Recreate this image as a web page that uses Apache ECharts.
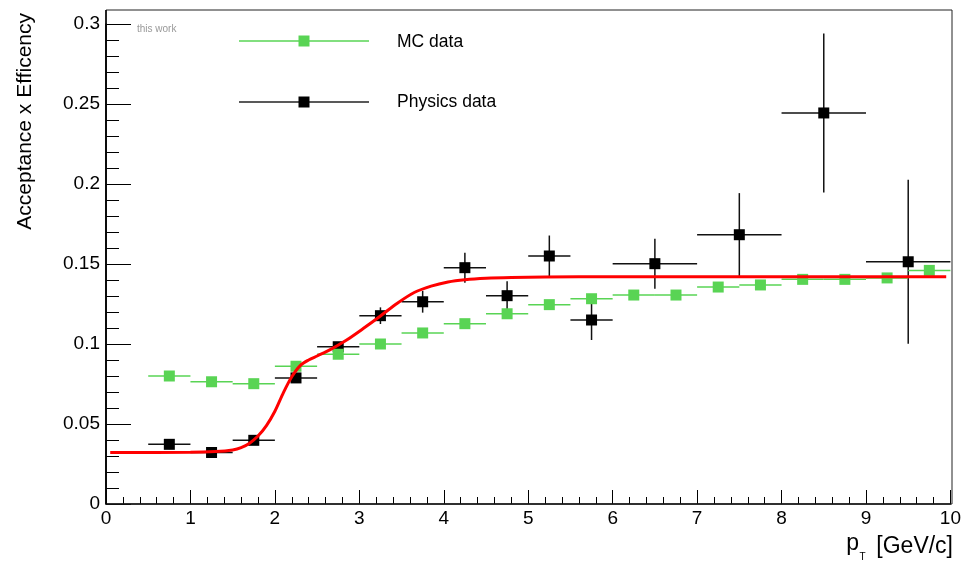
<!DOCTYPE html>
<html>
<head>
<meta charset="utf-8">
<script src="https://cdn.jsdelivr.net/npm/echarts@6/dist/echarts.min.js"></script>
<style>
html,body{margin:0;padding:0;background:#fff;}
#c{width:964px;height:563px;}
</style>
</head>
<body>
<div id="c"></div>
<script>
// ---- data ----
const physX    = [0.75, 1.25, 1.75, 2.25, 2.75, 3.25, 3.75, 4.25, 4.75, 5.25, 5.75, 6.5, 7.5, 8.5, 9.5];
const physXErr = [0.25, 0.25, 0.25, 0.25, 0.25, 0.25, 0.25, 0.25, 0.25, 0.25, 0.25, 0.5, 0.5, 0.5, 0.5];
const physY    = [0.0373, 0.0322, 0.0398, 0.0788, 0.0983, 0.1177, 0.1264, 0.1477, 0.1302, 0.155, 0.115, 0.1502, 0.1683, 0.2444, 0.1514];
const physYErr = [0.003, 0.003, 0.003, 0.003, 0.003, 0.0052, 0.0068, 0.0094, 0.009, 0.0128, 0.0125, 0.0156, 0.026, 0.0497, 0.0512];

const mcX    = [0.75, 1.25, 1.75, 2.25, 2.75, 3.25, 3.75, 4.25, 4.75, 5.25, 5.75, 6.25, 6.75, 7.25, 7.75, 8.25, 8.75, 9.25, 9.75];
const mcXErr = [0.25, 0.25, 0.25, 0.25, 0.25, 0.25, 0.25, 0.25, 0.25, 0.25, 0.25, 0.25, 0.25, 0.25, 0.25, 0.25, 0.25, 0.25, 0.25];
const mcY    = [0.0800, 0.0764, 0.0752, 0.0861, 0.0936, 0.1000, 0.1069, 0.1127, 0.1189, 0.1246, 0.1283, 0.1306, 0.1306, 0.1356, 0.1369, 0.1404, 0.1404, 0.1413, 0.1460];
const mcYErr = [0.001, 0.001, 0.001, 0.001, 0.001, 0.001, 0.001, 0.001, 0.001, 0.001, 0.001, 0.001, 0.001, 0.001, 0.001, 0.001, 0.001, 0.001, 0.001];

// fit curve
const fitX = [0.05, 1.0, 1.3, 1.5, 1.6, 1.7, 1.8, 1.9, 2.0, 2.1, 2.2, 2.3, 2.4, 2.5, 2.65, 2.85, 3.05, 3.25, 3.45, 3.65, 3.85, 4.05, 4.25, 4.5, 4.8, 5.2, 6.0, 9.95];
const fitY = [0.0322, 0.0323, 0.0328, 0.0338, 0.0352, 0.038, 0.0425, 0.049, 0.058, 0.0695, 0.0795, 0.0865, 0.0900, 0.0925, 0.0963, 0.1025, 0.1098, 0.1175, 0.1255, 0.1322, 0.1362, 0.1388, 0.1402, 0.1411, 0.1416, 0.1419, 0.142, 0.142];

const xTicks = [0, 1, 2, 3, 4, 5, 6, 7, 8, 9, 10];
const yTicks = [0, 0.05, 0.1, 0.15, 0.2, 0.25, 0.3];

const seriesNames = ['MC data', 'Physics data'];
const xTitle = ['p', 'T', '[GeV/c]'];
const yTitle = 'Acceptance x Efficency';
const note = 'this work';

// ---- build ----
const FONT = '"Liberation Sans", Arial, Helvetica, sans-serif';
const GREEN = '#59d454';
const BLACK = '#000000';

function zip4(a, b, c, d) { return a.map((v, i) => [v, b[i], c[i], d[i]]); }

function errRender(color, lw) {
  return function (params, api) {
    const x = api.value(0), y = api.value(1), ex = api.value(2), ey = api.value(3);
    const l = api.coord([x - ex, y]), r = api.coord([x + ex, y]);
    const t = api.coord([x, y + ey]), b = api.coord([x, y - ey]);
    const st = { stroke: color, lineWidth: lw };
    return {
      type: 'group',
      children: [
        { type: 'line', shape: { x1: l[0], y1: l[1], x2: r[0], y2: r[1] }, style: st },
        { type: 'line', shape: { x1: t[0], y1: t[1], x2: b[0], y2: b[1] }, style: st }
      ]
    };
  };
}

const chart = echarts.init(document.getElementById('c'), null, { renderer: 'canvas' });

const option = {
  animation: false,
  backgroundColor: '#ffffff',
  textStyle: { fontFamily: FONT },
  grid: { left: 106, right: 12, top: 24, bottom: 59, containLabel: false },
  xAxis: {
    type: 'value', min: xTicks[0], max: xTicks[xTicks.length - 1], interval: 1,
    axisLine: { show: true, onZero: false, lineStyle: { color: '#000', width: 1.5 } },
    axisTick: { show: true, inside: true, length: 14, lineStyle: { color: '#000', width: 1 } },
    minorTick: { show: true, splitNumber: 5, length: 7, lineStyle: { color: '#000', width: 1 } },
    splitLine: { show: false },
    axisLabel: { color: '#000', fontSize: 19, margin: 5, fontFamily: FONT,
      formatter: v => (xTicks.indexOf(v) >= 0 ? String(v) : '') }
  },
  yAxis: {
    type: 'value', min: yTicks[0], max: yTicks[yTicks.length - 1], interval: 0.05,
    axisLine: { show: true, onZero: false, lineStyle: { color: '#000', width: 1.5 } },
    axisTick: { show: true, inside: true, length: 25, lineStyle: { color: '#000', width: 1 } },
    minorTick: { show: true, splitNumber: 5, length: 13, lineStyle: { color: '#000', width: 1 } },
    splitLine: { show: false },
    axisLabel: { color: '#000', fontSize: 19, margin: 6, fontFamily: FONT,
      formatter: v => { const r = Math.round(v * 100) / 100; return String(r); } }
  },
  series: [
    {
      name: seriesNames[1] + ' err', type: 'custom', renderItem: errRender('#111', 1.5),
      data: zip4(physX, physY, physXErr, physYErr), z: 2, clip: false
    },
    {
      name: seriesNames[1], type: 'scatter', symbol: 'rect', symbolSize: 11,
      itemStyle: { color: BLACK, opacity: 1 },
      data: physX.map((x, i) => [x, physY[i]]), z: 3
    },
    {
      name: seriesNames[0] + ' err', type: 'custom', renderItem: errRender(GREEN, 1.5),
      data: zip4(mcX, mcY, mcXErr, mcYErr), z: 4, clip: false
    },
    {
      name: seriesNames[0], type: 'scatter', symbol: 'rect', symbolSize: 11,
      itemStyle: { color: GREEN, opacity: 1 },
      data: mcX.map((x, i) => [x, mcY[i]]), z: 5
    },
    {
      name: 'fit', type: 'line', showSymbol: false, symbol: 'none',
      smooth: 0.3,
      lineStyle: { color: '#ff0000', width: 3 },
      data: fitX.map((x, i) => [x, fitY[i]]), z: 6
    }
  ],
  graphic: [
    { type: 'rect', shape: { x: 106, y: 10, width: 846, height: 494 },
      style: { fill: 'none', stroke: '#222', lineWidth: 1 }, z: 1, silent: true },
    { type: 'line', shape: { x1: 106, y1: 10, x2: 106, y2: 504 },
      style: { stroke: '#000', lineWidth: 1.5 }, z: 1, silent: true },
    // legend
    { type: 'line', shape: { x1: 239, y1: 41, x2: 369, y2: 41 }, style: { stroke: GREEN, lineWidth: 1.3 }, z: 10 },
    { type: 'rect', shape: { x: 298.5, y: 35.5, width: 11, height: 11 }, style: { fill: GREEN }, z: 10 },
    { type: 'text', x: 397, y: 42, style: { text: seriesNames[0], font: '17.5px ' + FONT, fill: '#000', textVerticalAlign: 'middle', textAlign: 'left' }, z: 10 },
    { type: 'line', shape: { x1: 239, y1: 102, x2: 369, y2: 102 }, style: { stroke: '#222', lineWidth: 1.5 }, z: 10 },
    { type: 'rect', shape: { x: 298.5, y: 96.5, width: 11, height: 11 }, style: { fill: '#000' }, z: 10 },
    { type: 'text', x: 397, y: 102, style: { text: seriesNames[1], font: '17.5px ' + FONT, fill: '#000', textVerticalAlign: 'middle', textAlign: 'left' }, z: 10 },
    { type: 'text', x: 137, y: 29, style: { text: note, font: '10px ' + FONT, fill: '#999', textVerticalAlign: 'middle', textAlign: 'left' }, z: 10 },
    { type: 'text', x: 25, y: 13, rotation: Math.PI / 2,
      style: { text: yTitle, font: '21px ' + FONT, fill: '#000', textAlign: 'right', textVerticalAlign: 'middle' }, z: 10 },
    { type: 'text', x: 953, y: 547, style: { text: xTitle[2], font: '23px ' + FONT, fill: '#000', textAlign: 'right', textVerticalAlign: 'middle' }, z: 10 },
    { type: 'text', x: 859.5, y: 557, style: { text: xTitle[1], font: '10px ' + FONT, fill: '#000', textAlign: 'left', textVerticalAlign: 'middle' }, z: 10 },
    { type: 'text', x: 859, y: 544, style: { text: xTitle[0], font: '23px ' + FONT, fill: '#000', textAlign: 'right', textVerticalAlign: 'middle' }, z: 10 }
  ]
};
chart.setOption(option);
</script>
</body>
</html>
